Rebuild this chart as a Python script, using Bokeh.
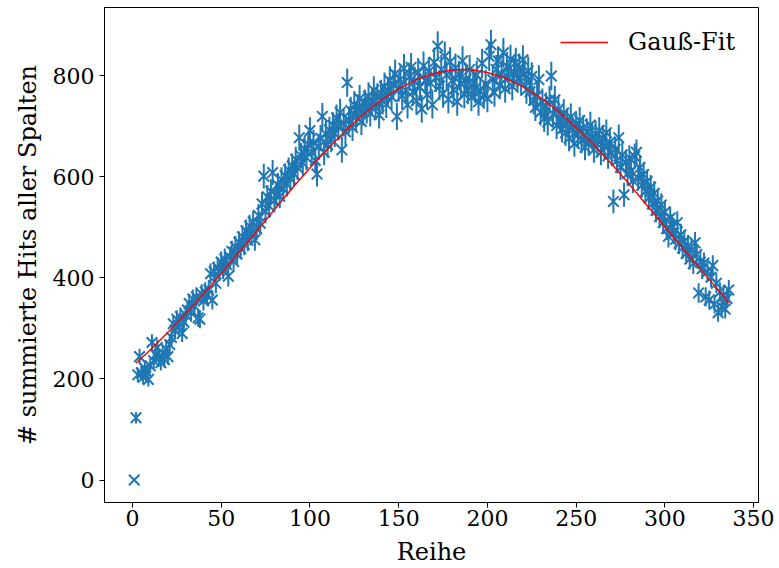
import numpy as np
from bokeh.plotting import figure
from bokeh.models import Range1d, FixedTicker, Legend, LegendItem, ColumnDataSource
from bokeh.embed import file_html
from bokeh.resources import INLINE

# ---- data ----
rows = list(range(1, 337))
hits = [
    0, 123, 208, 244, 212, 203, 221, 214, 199, 226,
    272, 236, 248, 262, 240, 232, 251, 238, 259, 244,
    268, 282, 309, 296, 318, 303, 323, 290, 312, 327,
    336, 349, 331, 358, 344, 362, 321, 318, 368, 354,
    372, 365, 376, 408, 356, 412, 389, 420, 414, 431,
    418, 437, 426, 403, 441, 452, 432, 461, 447, 470,
    458, 481, 466, 493, 474, 502, 488, 510, 475, 497,
    523, 508, 546, 601, 531, 560, 542, 571, 608, 553,
    566, 583, 561, 594, 576, 602, 585, 613, 596, 621,
    605, 634, 618, 677, 641, 627, 655, 638, 664, 691,
    648, 667, 632, 605, 659, 676, 719, 648, 684, 663,
    692, 674, 701, 685, 716, 698, 727, 653, 706, 689,
    786, 712, 731, 697, 742, 718, 736, 754, 709, 728,
    745, 732, 759, 726, 748, 771, 739, 757, 722, 764,
    751, 778, 743, 769, 790, 758, 782, 803, 719, 776,
    792, 760, 814, 771, 742, 797, 816, 768, 789, 750,
    806, 777, 734, 819, 791, 762, 808, 785, 742, 826,
    796, 858, 779, 812, 764, 838, 801, 753, 827, 790,
    772, 815, 748, 801, 784, 829, 763, 793, 771, 812,
    757, 786, 774, 801, 748, 769, 824, 762, 783, 755,
    838, 861, 792, 766, 812, 829, 781, 803, 845, 774,
    818, 796, 832, 779, 807, 826, 794, 815, 788, 831,
    803, 772, 809, 768, 798, 751, 737, 760, 792, 728,
    747, 715, 739, 708, 752, 799, 724, 752, 701, 733,
    712, 694, 726, 687, 709, 676, 718, 692, 665, 703,
    684, 711, 672, 695, 658, 689, 667, 702, 679, 653,
    684, 664, 691, 648, 676, 659, 687, 641, 668, 647,
    551, 654, 632, 677, 618, 643, 564, 628, 606, 637,
    611, 592, 640, 648, 597, 618, 583, 604, 571, 590,
    558, 579, 546, 567, 533, 552, 521, 544, 509, 530,
    497, 482, 518, 503, 489, 476, 509, 468, 485, 459,
    472, 448, 463, 437, 455, 428, 469, 446, 370, 431,
    418, 429, 362, 412, 356, 401, 424, 348, 389, 331,
    372, 343, 366, 338, 359, 376,
]

# Gauss fit curve
fit_x = [2, 10, 20, 30, 40, 50, 60, 70, 80, 90, 100, 110, 120, 130, 140, 150,
         160, 170, 180, 186, 190, 200, 210, 220, 230, 240, 250, 260, 270, 280,
         290, 300, 310, 320, 330, 336]
fit_y = [231, 257, 292, 329, 368, 408, 450, 492, 535, 577, 617, 655, 691, 723,
         751, 774, 792, 804, 811, 812, 812, 806, 795, 778, 756, 729, 697, 663,
         625, 585, 543, 501, 459, 417, 376, 350]

x_ticks = [0, 50, 100, 150, 200, 250, 300, 350]
y_ticks = [0, 200, 400, 600, 800]

x_label = "Reihe"
y_label = "# summierte Hits aller Spalten"
legend_label = "Gauß-Fit"

BLUE = "#1f77b4"
FONT = "DejaVu Serif"

h = np.array(hits, dtype=float)
err = np.sqrt(h)
src = ColumnDataSource(dict(x=rows, y=hits, lo=h - err, hi=h + err))

p = figure(width=778, height=568, output_backend="svg", toolbar_location=None,
           x_range=Range1d(-15.75, 352.75), y_range=Range1d(-44.5, 934.5),
           min_border_left=104, min_border_right=20, min_border_top=7,
           min_border_bottom=40)
p.background_fill_color = "white"
p.border_fill_color = "white"
p.grid.visible = False
p.outline_line_color = "black"
p.outline_line_width = 1

p.segment(x0="x", y0="lo", x1="x", y1="hi", source=src, line_color=BLUE, line_width=2)
p.scatter(x="x", y="y", source=src, marker="x", size=15, line_color=BLUE, line_width=2)
fit = p.line(fit_x, fit_y, line_color="#ff0000", line_width=1.4)

for ax in (p.xaxis[0], p.yaxis[0]):
    ax.major_label_text_font = FONT
    ax.major_label_text_font_size = "22px"
    ax.major_label_text_color = "black"
    ax.axis_label_text_font = FONT
    ax.axis_label_text_font_size = "24px"
    ax.axis_label_text_font_style = "normal"
    ax.axis_label_text_color = "black"
    ax.major_tick_out = 5
    ax.major_tick_in = 0
    ax.minor_tick_out = 0
    ax.minor_tick_in = 0
    ax.axis_line_color = "black"
    ax.major_tick_line_color = "black"

p.xaxis[0].ticker = FixedTicker(ticks=x_ticks)
p.yaxis[0].ticker = FixedTicker(ticks=y_ticks)
p.xaxis[0].axis_label = x_label
p.yaxis[0].axis_label = y_label
p.xaxis[0].major_label_standoff = 2
p.xaxis[0].axis_label_standoff = 9
p.yaxis[0].major_label_standoff = 5
p.yaxis[0].axis_label_standoff = 8

legend = Legend(items=[LegendItem(label=legend_label, renderers=[fit])],
                location=(456, 446))
legend.border_line_alpha = 0
legend.background_fill_alpha = 0
legend.label_text_font = FONT
legend.label_text_font_size = "24px"
legend.label_text_color = "black"
legend.glyph_width = 48
legend.glyph_height = 24
legend.label_height = 24
legend.label_standoff = 20
legend.padding = 0
legend.margin = 0
legend.spacing = 0
p.add_layout(legend, "center")

open("out.html", "w").write(file_html(p, INLINE))
